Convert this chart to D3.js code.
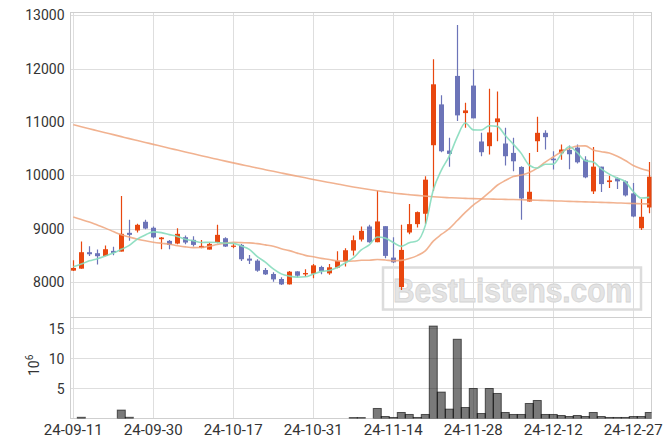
<!DOCTYPE html>
<html>
<head>
<meta charset="utf-8">
<script src="https://cdn.jsdelivr.net/npm/d3@7"></script>
<style>
  html, body { margin: 0; padding: 0; background: #fff; }
  svg { display: block; }
  text { font-family: Roboto, "Liberation Sans", sans-serif; }
</style>
</head>
<body>
<div id="chart"></div>
<script>
// ---------------- DATA ----------------
const dates = ["24-09-11","24-09-12","24-09-13","24-09-19","24-09-20","24-09-23","24-09-24","24-09-25","24-09-26","24-09-27",
  "24-09-30","24-10-02","24-10-04","24-10-07","24-10-08","24-10-10","24-10-11","24-10-14","24-10-15","24-10-16",
  "24-10-17","24-10-18","24-10-21","24-10-22","24-10-23","24-10-24","24-10-25","24-10-28","24-10-29","24-10-30",
  "24-10-31","24-11-01","24-11-04","24-11-05","24-11-06","24-11-07","24-11-08","24-11-11","24-11-12","24-11-13",
  "24-11-14","24-11-15","24-11-18","24-11-19","24-11-20","24-11-21","24-11-22","24-11-25","24-11-26","24-11-27",
  "24-11-28","24-11-29","24-12-02","24-12-03","24-12-04","24-12-05","24-12-06","24-12-09","24-12-10","24-12-11",
  "24-12-12","24-12-13","24-12-16","24-12-17","24-12-18","24-12-19","24-12-20","24-12-23","24-12-24","24-12-26",
  "24-12-27","24-12-30","25-01-02"];

const openP = [8217,8254,8562,8543,8492,8587,8574,8925,8969,9132,
  9020,8806,8774,8724,8843,8793,8643,8611,8749,8824,
  8665,8699,8442,8404,8229,8154,8060,7959,8203,8147,
  8160,8285,8166,8273,8386,8593,8799,9044,8749,9050,
  8461,7909,8931,9088,9282,10566,11331,10466,11864,11168,
  11683,10636,10548,10999,10598,10422,10159,9512,10641,10798,
  10315,10416,10478,10522,10296,9701,10165,9876,9945,9889,
  9663,9011,9400];
const highP = [8410,8763,8675,8612,8687,8662,9613,9169,9094,9169,
  9045,8849,8793,9012,8874,8862,8793,8743,9075,8843,
  8730,8718,8511,8429,8266,8185,8091,8210,8203,8241,
  8342,8310,8342,8580,8637,8875,9044,9075,9714,9050,
  8843,9075,9463,9326,9984,12178,11500,10705,12816,11363,
  11990,10799,11626,11570,10893,10704,10170,10422,11099,10848,
  10453,10579,10560,10579,10360,10535,10165,9995,9965,9903,
  9857,9557,10252];
const lowP = [8210,8250,8492,8330,8487,8505,8574,8775,8931,8994,
  8825,8617,8617,8712,8712,8668,8636,8611,8730,8661,
  8636,8398,8342,8197,8134,8009,7947,7959,8091,8103,
  8072,8147,8141,8260,8292,8499,8762,8737,8749,8449,
  8361,7853,8900,9025,9090,9710,10434,10162,11018,10893,
  11069,10360,10391,10642,10185,10077,9168,9512,10441,10485,
  10109,10296,10115,10222,9946,9651,9688,9763,9746,9607,
  9218,8980,9293];
const closeP = [8267,8562,8524,8487,8618,8549,8906,8887,9075,9006,
  8840,8837,8699,8906,8743,8699,8680,8718,8887,8668,
  8685,8430,8404,8216,8147,8053,7959,8197,8122,8172,
  8316,8210,8279,8398,8599,8787,8962,8749,9138,8493,
  8373,8605,9088,9313,9921,11707,10453,10404,11125,11218,
  11069,10435,10805,11068,10360,10265,9569,9694,10798,10717,
  10284,10485,10397,10246,9964,10165,9838,9907,9889,9626,
  9231,9225,9976];

// volume in millions (x 10^6)
const volume = [0,0.2,0,0,0,0,1.4,0.2,0,0,
  0,0,0,0,0,0,0,0,0,0,
  0,0,0,0,0,0,0,0,0,0,
  0,0,0,0,0,0.15,0.15,0,1.67,0.33,
  0.17,1.0,0.67,0.17,0.67,15.4,4.4,1.56,13.2,1.83,
  5.0,0.83,5.0,4.17,1.0,0.67,0.67,2.5,3.0,0.67,
  0.67,0.5,0.33,0.5,0.33,1.0,0.33,0.17,0.17,0.17,
  0.33,0.33,1.0];

// moving averages
const ma5 = [8290,8340,8400,8440,8492,8548,8617,8689,8807,8885,
  8943,8929,8891,8858,8805,8777,8745,8749,8745,8730,
  8728,8678,8615,8481,8376,8250,8156,8114,8096,8101,
  8153,8203,8220,8275,8360,8455,8605,8699,8847,8826,
  8743,8672,8739,8774,9060,9727,10096,10360,10722,10981,
  10854,10850,10930,10919,10747,10587,10413,10191,10137,10209,
  10212,10396,10536,10426,10275,10251,10122,10024,9953,9885,
  9698,9576,9589];
const ma20 = [9220,9175,9127,9070,9013,8950,8887,8845,8806,8775,
  8750,8730,8712,8685,8662,8648,8650,8675,8705,8728,
  8749,8742,8736,8723,8699,8674,8627,8592,8545,8503,
  8477,8446,8425,8399,8392,8396,8410,8412,8425,8416,
  8400,8409,8443,8498,8587,8769,8894,9004,9155,9307,
  9445,9556,9682,9816,9904,9978,10008,10055,10138,10249,
  10345,10439,10504,10551,10553,10476,10445,10420,10359,10279,
  10187,10127,10085];
const maLong = [10950,10912,10875,10838,10801,10764,10727,10690,10654,10618,
  10582,10546,10510,10475,10440,10405,10370,10336,10302,10268,
  10235,10203,10171,10139,10108,10077,10046,10015,9985,9955,
  9925,9896,9868,9840,9812,9785,9760,9736,9713,9692,
  9672,9655,9640,9626,9613,9601,9591,9583,9576,9570,
  9565,9561,9558,9555,9552,9548,9544,9540,9535,9530,
  9525,9520,9515,9510,9505,9500,9495,9490,9485,9480,
  9475,9470,9464];

const priceTicks = [8000, 9000, 10000, 11000, 12000, 13000];
const volTicks = [5, 10, 15];
const dateTickIdx = [0, 10, 20, 30, 40, 50, 60, 70];
const volUnitLabel = ["10", "6"];
const watermark = "BestListens.com";

// ---------------- LAYOUT ----------------
const W = 671, H = 447;
const L = 70.5, R = 651.5;
const pTop = 12.5, pBot = 317.5, vTop = 317.5, vBot = 418.5;

const svg = d3.select("#chart").append("svg")
  .attr("width", W).attr("height", H);
svg.append("rect").attr("width", W).attr("height", H).attr("fill", "#fff");

const n = dates.length;
const idx = d3.range(n);
const x = d3.scaleLinear().domain([-0.35, 72.28]).range([L, R]);
const yP = d3.scaleLinear().domain([7339, 13052]).range([pBot, pTop]);
const yV = d3.scaleLinear().domain([0, 16.83]).range([vBot, vTop]);

const gridC = "#dedede", borderC = "#cfcfcf", textC = "#333";

// clip paths
svg.append("clipPath").attr("id", "clipP").append("rect")
  .attr("x", L).attr("y", pTop).attr("width", R - L).attr("height", pBot - pTop);
svg.append("clipPath").attr("id", "clipV").append("rect")
  .attr("x", L).attr("y", vTop).attr("width", R - L).attr("height", vBot - vTop);

// grid
const grid = svg.append("g");
grid.selectAll(".hp").data(priceTicks).join("line")
  .attr("x1", L).attr("x2", R)
  .attr("y1", d => Math.round(yP(d)) + 0.5).attr("y2", d => Math.round(yP(d)) + 0.5)
  .attr("stroke", gridC);
grid.selectAll(".hv").data(volTicks).join("line")
  .attr("x1", L).attr("x2", R)
  .attr("y1", d => Math.round(yV(d)) + 0.5).attr("y2", d => Math.round(yV(d)) + 0.5)
  .attr("stroke", gridC);
grid.selectAll(".vx").data(dateTickIdx).join("line")
  .attr("x1", d => Math.round(x(d)) + 0.5).attr("x2", d => Math.round(x(d)) + 0.5)
  .attr("y1", pTop).attr("y2", vBot)
  .attr("stroke", gridC);

// panel borders
svg.append("rect").attr("x", L).attr("y", pTop).attr("width", R - L).attr("height", pBot - pTop)
  .attr("fill", "none").attr("stroke", borderC);
svg.append("rect").attr("x", L).attr("y", vTop).attr("width", R - L).attr("height", vBot - vTop)
  .attr("fill", "none").attr("stroke", borderC);

// watermark
const wm = svg.append("g");
wm.append("rect").attr("x", 383).attr("y", 267.5).attr("width", 258).attr("height", 42)
  .attr("fill", "none").attr("stroke", "#dcdcdc").attr("stroke-width", 2.5);
wm.append("text").attr("x", 393).attr("y", 301.5)
  .attr("textLength", 239).attr("lengthAdjust", "spacingAndGlyphs")
  .style("font-family", "'Liberation Sans', Arial, sans-serif")
  .style("font-weight", "bold").style("font-size", "33px")
  .attr("fill", "#e4e4e4").attr("stroke", "#d4d4d4").attr("stroke-width", 0.8)
  .text(watermark);

// volume bars
const bw = x(1) - x(0);
svg.append("g").attr("clip-path", "url(#clipV)")
  .selectAll("rect").data(idx.filter(i => volume[i] > 0)).join("rect")
  .attr("x", i => x(i) - bw / 2).attr("width", bw)
  .attr("y", i => yV(volume[i])).attr("height", i => vBot - yV(volume[i]))
  .attr("fill", "#000").attr("fill-opacity", 0.52)
  .attr("stroke", "#000").attr("stroke-opacity", 0.6).attr("stroke-width", 1);

// candles
const upC = "#e8470f", dnC = "#6c74b8";
const cg = svg.append("g").attr("clip-path", "url(#clipP)");
const cand = cg.selectAll("g").data(idx).join("g");
cand.append("line")
  .attr("x1", i => Math.round(x(i)) + 0.5).attr("x2", i => Math.round(x(i)) + 0.5)
  .attr("y1", i => yP(highP[i])).attr("y2", i => yP(lowP[i]))
  .attr("stroke", i => closeP[i] > openP[i] ? upC : dnC).attr("stroke-width", 1.2);
const bodyW = 5;
cand.append("rect")
  .attr("x", i => Math.round(x(i)) + 0.5 - bodyW / 2).attr("width", bodyW)
  .attr("y", i => yP(Math.max(openP[i], closeP[i])))
  .attr("height", i => Math.max(1.2, Math.abs(yP(openP[i]) - yP(closeP[i]))))
  .attr("fill", i => closeP[i] > openP[i] ? upC : dnC);

// moving average lines
const lineGen = arr => d3.line().x(i => x(i)).y(i => yP(arr[i])).curve(d3.curveMonotoneX)(idx);
const lg = svg.append("g").attr("clip-path", "url(#clipP)").attr("fill", "none");
lg.append("path").attr("d", lineGen(maLong)).attr("stroke", "#eea47c").attr("stroke-width", 1.6).attr("stroke-opacity", 0.85);
lg.append("path").attr("d", lineGen(ma20)).attr("stroke", "#eea47c").attr("stroke-width", 1.6).attr("stroke-opacity", 0.85);
lg.append("path").attr("d", lineGen(ma5)).attr("stroke", "#86dcbc").attr("stroke-width", 1.6).attr("stroke-opacity", 0.9);

// axes labels
const axT = svg.append("g").style("font-size", "14px").attr("fill", textC);
axT.selectAll(".py").data(priceTicks).join("text")
  .attr("x", 64.5).attr("y", d => yP(d)).attr("dy", "0.36em")
  .attr("text-anchor", "end").text(d => d);
axT.selectAll(".vy").data(volTicks).join("text")
  .attr("x", 64.5).attr("y", d => yV(d)).attr("dy", "0.36em")
  .attr("text-anchor", "end").text(d => d);
svg.append("g").style("font-size", "15px").attr("fill", textC)
  .selectAll("text").data(dateTickIdx).join("text")
  .attr("x", d => x(d)).attr("y", 435)
  .attr("text-anchor", "middle").text(d => dates[d]);

// unit label 10^6
const ul = svg.append("text").attr("transform", "translate(38.5,376) rotate(-90)")
  .style("font-size", "14px").attr("fill", textC);
ul.append("tspan").text(volUnitLabel[0]);
ul.append("tspan").attr("dy", -6).style("font-size", "10px").text(volUnitLabel[1]);
</script>
</body>
</html>
